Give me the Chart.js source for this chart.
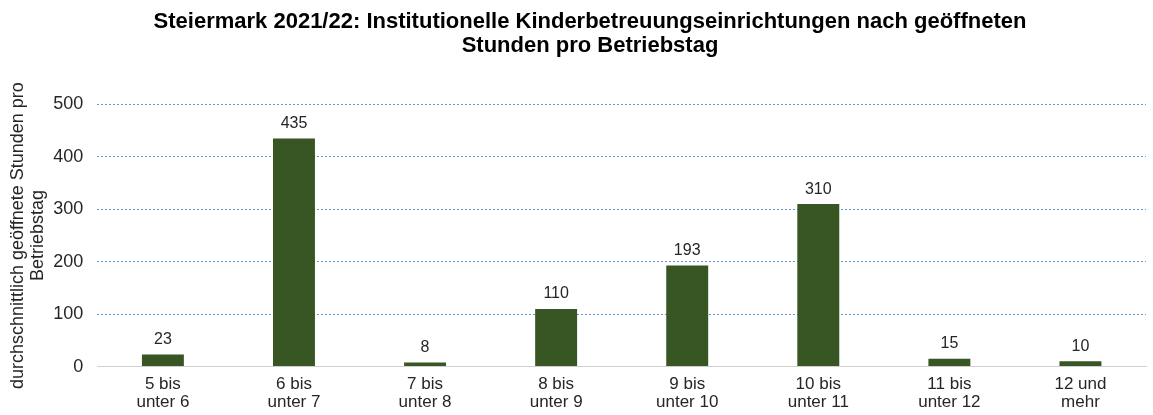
<!DOCTYPE html>
<html>
<head>
<meta charset="utf-8">
<script src="https://cdn.jsdelivr.net/npm/chart.js@4"></script>
<style>
html,body{margin:0;padding:0;background:#fff;}
#wrap{width:1153px;height:415px;position:relative;}
</style>
</head>
<body>
<div id="wrap"><canvas id="c" width="1153" height="415"></canvas></div>
<script>
const categories = [["5 bis","unter 6"],["6 bis","unter 7"],["7 bis","unter 8"],["8 bis","unter 9"],["9 bis","unter 10"],["10 bis","unter 11"],["11 bis","unter 12"],["12 und","mehr"]];
const values = [23, 435, 8, 110, 193, 310, 15, 10];
const titleLines = ["Steiermark 2021/22: Institutionelle Kinderbetreuungseinrichtungen nach geöffneten","Stunden pro Betriebstag"];
const yTitleLines = ["durchschnittlich geöffnete Stunden pro","Betriebstag"];

const valueLabels = {
  id: 'valueLabels',
  afterLayout(chart) {
    if (chart.titleBlock) { chart.titleBlock.left += 26; }
  },
  afterDatasetsDraw(chart) {
    const ctx = chart.ctx;
    const meta = chart.getDatasetMeta(0);
    ctx.save();
    ctx.font = '16px "Liberation Sans", Arial, sans-serif';
    ctx.fillStyle = '#262626';
    ctx.textAlign = 'center';
    ctx.textBaseline = 'bottom';
    meta.data.forEach((bar, i) => {
      ctx.fillText(String(values[i]), bar.x, bar.y - 7);
    });
    ctx.restore();
  }
};

new Chart(document.getElementById('c'), {
  type: 'bar',
  data: {
    labels: categories,
    datasets: [{
      data: values,
      backgroundColor: '#375623',
      borderWidth: 0,
      categoryPercentage: 1.0,
      barPercentage: 0.32
    }]
  },
  options: {
    responsive: false,
    animation: false,
    layout: { padding: { left: 8, right: 7, top: 4, bottom: -5 } },
    plugins: {
      legend: { display: false },
      tooltip: { enabled: false },
      title: {
        display: true,
        text: titleLines,
        color: '#000',
        font: { family: '"Liberation Sans", Arial, sans-serif', size: 22, weight: 'bold', lineHeight: 1.08 },
        padding: { top: 6, bottom: 47 }
      }
    },
    scales: {
      x: {
        grid: { display: false, drawTicks: false },
        border: { display: true, color: '#d0d0d0', width: 1 },
        ticks: {
          color: '#262626',
          font: { family: '"Liberation Sans", Arial, sans-serif', size: 17, lineHeight: 1.1 },
          padding: 8,
          maxRotation: 0
        }
      },
      y: {
        min: 0, max: 500,
        ticks: {
          stepSize: 100,
          color: '#262626',
          font: { family: '"Liberation Sans", Arial, sans-serif', size: 18 },
          padding: 14
        },
        grid: {
          color: (c) => c.tick && c.tick.value === 0 ? 'rgba(0,0,0,0)' : '#5b9bd5',
          lineWidth: 1,
          drawTicks: false
        },
        border: { display: false, dash: [2, 2] },
        title: {
          display: true,
          text: yTitleLines,
          color: '#262626',
          font: { family: '"Liberation Sans", Arial, sans-serif', size: 18, lineHeight: 1.12 },
          padding: { top: 0, bottom: -9 }
        }
      }
    }
  },
  plugins: [valueLabels]
});
</script>
</body>
</html>
